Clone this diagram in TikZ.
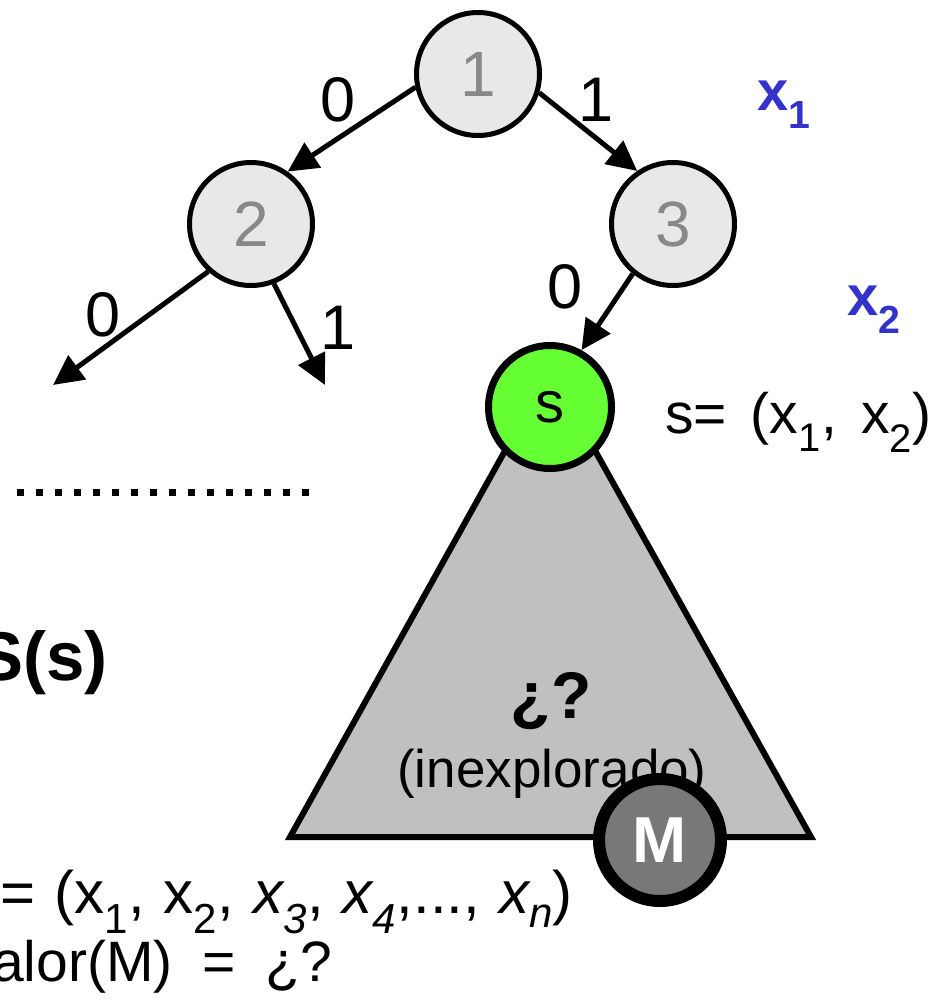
\documentclass[tikz,border=0pt]{standalone}
\usepackage{fontspec}
\setmainfont{Liberation Sans}
\usetikzlibrary{arrows.meta,positioning}
\definecolor{NodeGray}{HTML}{E8E8E8}
\definecolor{NumGray}{HTML}{888888}
\definecolor{StateGreen}{HTML}{66FF33}
\definecolor{SubTree}{HTML}{C0C0C0}
\definecolor{GoalGray}{HTML}{787878}
\definecolor{VarBlue}{HTML}{3333CC}

\begin{document}
\begin{tikzpicture}[x=1pt,y=-1pt,
  vert/.style={circle,draw,line width=5pt,fill=NodeGray,text=NumGray,minimum size=123pt,inner sep=0pt,font=\fontsize{64}{66}\selectfont},
  edge/.style={line width=5pt,-{Triangle[length=30pt,width=29pt]}},
  bit/.style={font=\fontsize{63}{66}\selectfont},
  var/.style={text=VarBlue,font=\bfseries\fontsize{56}{60}\selectfont,anchor=base west},
  txt/.style={font=\fontsize{57}{60}\selectfont,inner sep=0pt,anchor=base west}]
  \useasboundingbox (0,0) rectangle (943,1001);
  \node[vert] (n1) at (478,74) {1};
  \node[vert] (n2) at (251,224) {2};
  \node[vert] (n3) at (673,224) {3};
  \coordinate (l20) at (53,385);
  \coordinate (l21) at (325,385);
  \draw[edge] (n1.192) -- (n2.55);
  \draw[edge] (n1.343) -- (n3.124);
  \node[bit] (b10) at (338,100) {0};
  \node[bit] (b11) at (596,100) {1};
  \draw[edge] (n2.228) -- (l20);
  \draw[edge] (n2.291) -- (l21);
  \node[bit] (b20) at (103,315) {0};
  \node[bit] (b21) at (338,328) {1};
  \draw[line width=7pt,dash pattern=on 7pt off 12pt] (17,492) -- (313,492);
  \draw[line width=6pt,fill=SubTree,line join=miter] (550,370) -- (811,837) -- (290,837) -- cycle;
  \node[vert,fill=StateGreen,text=black,line width=7pt,font=\fontsize{58}{60}\selectfont] (s) at (550,407) {s};
  \draw[edge] (n3.231) -- (s.61);
  \node[bit] (b30) at (565,287) {0};
  \node[var] (x1) at (754,110) {x\textsubscript{1}};
  \node[var] (x2) at (844,315) {x\textsubscript{2}};
  \node[txt] (sdef) at (665,433) {\spaceskip=24pt s= (x\textsubscript{1}, x\textsubscript{2})};
  \node[font=\bfseries\fontsize{66}{68}\selectfont,inner sep=0pt,anchor=base] (unk) at (551,718) {¿?};
  \node[font=\fontsize{53}{56}\selectfont,inner sep=0pt,anchor=base] (inex) at (552,787) {(inexplorado)};
  \node[circle,draw,line width=12pt,fill=GoalGray,text=white,minimum size=122pt,inner sep=0pt,font=\bfseries\fontsize{65}{68}\selectfont] (m) at (660,840) {M};
  \node[font=\bfseries\fontsize{69}{72}\selectfont,inner sep=0pt,anchor=base east] (ss) at (108,680) {S(s)};
  \node[txt,font=\fontsize{60}{62}\selectfont] (mdef) at (0,913) {\spaceskip=19pt = (x\textsubscript{1}, x\textsubscript{2}, \textit{x\textsubscript{3}}, \textit{x\textsubscript{4}},..., \textit{x\textsubscript{n}})};
  \node[txt] (val) at (-8,981) {\spaceskip=30pt alor(M) = ¿?};
\end{tikzpicture}
\end{document}
